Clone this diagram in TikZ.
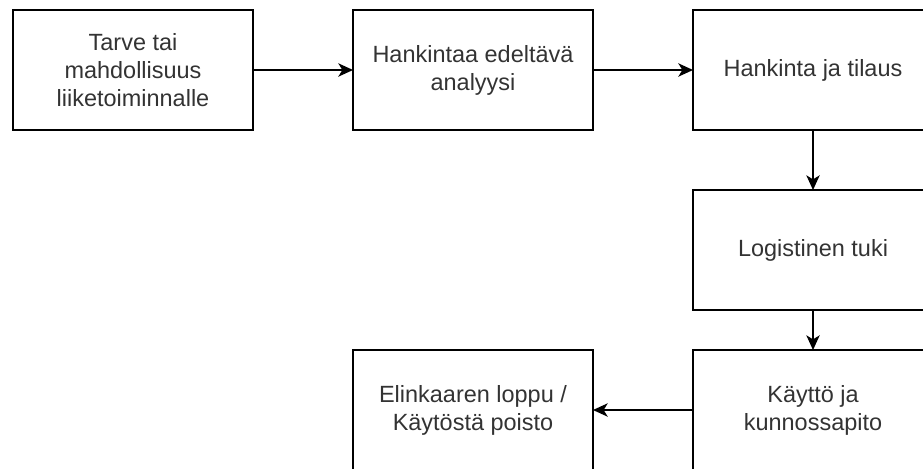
\documentclass[tikz,border=0pt]{standalone}
\usepackage{fontspec}
\setmainfont{Liberation Sans}
\usetikzlibrary{arrows.meta,positioning}
\definecolor{stagetext}{RGB}{51,51,51}

\begin{document}
\begin{tikzpicture}[x=.75pt,y=-.75pt,
    stage/.style={draw,line width=1.1pt,minimum width=180pt,minimum height=90pt,
      inner sep=0pt,outer sep=0pt,align=center,text=stagetext,
      font=\fontsize{17.6}{21}\selectfont},
    flow/.style={-{Stealth[length=11pt,width=10pt,inset=3pt]},line width=1.1pt}]
    \useasboundingbox (0,0) rectangle (923,468);
    \clip (0,0) rectangle (923,468);
    \node[stage] (need) at (133,70) {Tarve tai\\mahdollisuus\\liiketoiminnalle};
    \node[stage,right=75pt of need] (analysis) {Hankintaa edeltävä\\analyysi};
    \node[stage,right=75pt of analysis] (order) {Hankinta ja tilaus};
    \node[stage,below=45pt of order] (logistics) {Logistinen tuki};
    \node[stage,below=30pt of logistics] (use) {Käyttö ja\\kunnossapito};
    \node[stage,left=75pt of use] (endoflife) {Elinkaaren loppu /\\Käytöstä poisto};
    \draw[flow] (need)--(analysis);
    \draw[flow] (analysis)--(order);
    \draw[flow] (order)--(logistics);
    \draw[flow] (logistics)--(use);
    \draw[flow] (use)--(endoflife);
  \end{tikzpicture}
\end{document}
